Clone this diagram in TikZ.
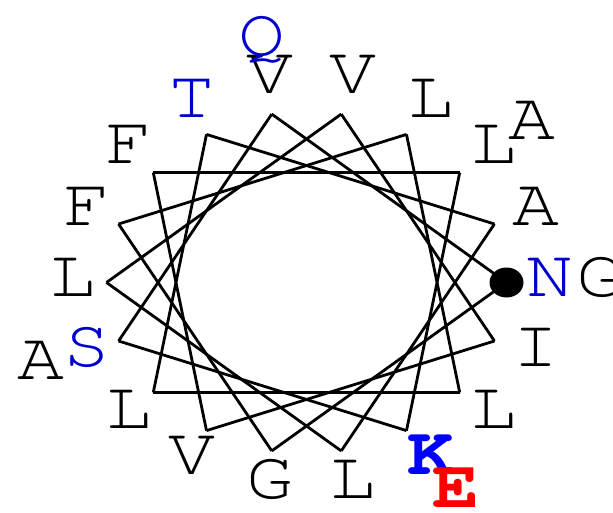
\documentclass[tikz,border=0pt]{standalone}
\usepackage[T1]{fontenc}
\usepackage{graphicx}

\tikzset{
  wheel/.style={line width=2.8pt, line join=miter},
  res/.style={inner sep=0pt, text height=39pt, text depth=0pt,
    font=\fontfamily{pcr}\fontsize{68}{68}\selectfont},
  hydro/.style={res, text=black},
  polar/.style={res, text=blue!80!black},
  basic/.style={res, text=blue, font=\fontfamily{pcr}\fontseries{b}\fontsize{68}{68}\selectfont},
  acidic/.style={res, text=red, font=\fontfamily{pcr}\fontseries{b}\fontsize{68}{68}\selectfont}
}

\begin{document}
\begin{tikzpicture}[x={(1pt,0)},y={(0,-1pt)}]
  \useasboundingbox (0,0) rectangle (613,512);
  % corners of the wheel, one every 20 degrees
  \foreach \a in {0,20,...,340}
    \coordinate (v\a) at ({306.5+200*cos(\a)},{282.5-171*sin(\a)});
  % residue i to residue i+1 is 100 degrees
  \foreach \a in {0,20,...,340} {
    \pgfmathtruncatemacro\b{mod(\a+100,360)}
    \draw[wheel] (v\a) -- (v\b);
  }
  \fill (v0) ellipse (17pt and 15pt);
  % first turn of residues
  \foreach \a/\aa/\sty in {0/N/polar,20/A/hydro,40/L/hydro,60/L/hydro,
      80/V/hydro,100/V/hydro,120/T/polar,140/F/hydro,160/F/hydro,
      180/L/hydro,200/S/polar,220/L/hydro,240/V/hydro,260/G/hydro,
      280/L/hydro,300/K/basic,320/L/hydro,340/I/hydro}
    \node[\sty] (r\a) at ({311.5+238.5*cos(\a)},{276.5-206*sin(\a)})
      {\scalebox{1.15}[1]{\aa}};
  % second turn
  \foreach \a/\aa/\sty in {0/G/hydro,40/A/hydro,100/Q/polar,
      200/A/hydro,300/E/acidic}
    \node[\sty] (o\a) at ({311.5+288*cos(\a)},{276.5-244*sin(\a)})
      {\scalebox{1.15}[1]{\aa}};
\end{tikzpicture}
\end{document}
